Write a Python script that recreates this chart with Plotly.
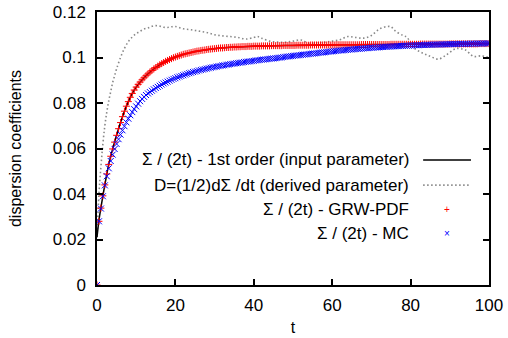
import plotly.graph_objects as go

# ---- data ----
t_markers = [i * 0.5 for i in range(201)]

grw_pdf = [
    0.0, 0.0280, 0.0338, 0.0392, 0.0440, 0.0488, 0.0530, 0.0566, 0.0598, 0.0628,
    0.0658, 0.0687, 0.0714, 0.0740, 0.0764, 0.0786, 0.0806, 0.0825, 0.0842, 0.0857,
    0.0870, 0.0882, 0.0892, 0.0902, 0.0911, 0.0920, 0.0928, 0.0936, 0.0943, 0.0950,
    0.0956, 0.0962, 0.0968, 0.0973, 0.0978, 0.0983, 0.0987, 0.0991, 0.0995, 0.0999,
    0.1002, 0.1005, 0.1008, 0.1011, 0.1014, 0.1016, 0.1018, 0.1020, 0.1022, 0.1024,
    0.1026, 0.1028, 0.1029, 0.1031, 0.1032, 0.1033, 0.1035, 0.1036, 0.1037, 0.1038,
    0.1039, 0.1040, 0.1041, 0.1042, 0.1042, 0.1043, 0.1044, 0.1044, 0.1045, 0.1045,
    0.1046, 0.1046, 0.1047, 0.1047, 0.1048, 0.1048, 0.1048, 0.1049, 0.1049, 0.1049,
    0.1050, 0.1050, 0.1050, 0.1050, 0.1051, 0.1051, 0.1051, 0.1051, 0.1051, 0.1052,
    0.1052, 0.1052, 0.1052, 0.1052, 0.1052, 0.1053, 0.1053, 0.1053, 0.1053, 0.1053,
    0.1053, 0.1053, 0.1054, 0.1054, 0.1054, 0.1054, 0.1054, 0.1054, 0.1054, 0.1055,
    0.1055, 0.1055, 0.1055, 0.1055, 0.1055, 0.1055, 0.1055, 0.1055, 0.1055, 0.1055,
    0.1055, 0.1055, 0.1056, 0.1056, 0.1056, 0.1056, 0.1056, 0.1056, 0.1056, 0.1056,
    0.1056, 0.1056, 0.1056, 0.1056, 0.1056, 0.1057, 0.1057, 0.1057, 0.1057, 0.1057,
    0.1057, 0.1057, 0.1057, 0.1057, 0.1057, 0.1057, 0.1057, 0.1057, 0.1057, 0.1057,
    0.1058, 0.1058, 0.1058, 0.1058, 0.1058, 0.1058, 0.1058, 0.1058, 0.1058, 0.1058,
    0.1058, 0.1058, 0.1058, 0.1058, 0.1058, 0.1059, 0.1059, 0.1059, 0.1059, 0.1059,
    0.1059, 0.1059, 0.1059, 0.1059, 0.1059, 0.1059, 0.1059, 0.1059, 0.1059, 0.1059,
    0.1060, 0.1060, 0.1060, 0.1060, 0.1060, 0.1060, 0.1060, 0.1060, 0.1060, 0.1060,
    0.1060, 0.1060, 0.1060, 0.1060, 0.1060, 0.1061, 0.1061, 0.1061, 0.1061, 0.1061,
    0.1061,
]

mc = [
    0.0, 0.0280, 0.0336, 0.0390, 0.0438, 0.0478, 0.0513, 0.0545, 0.0573, 0.0598,
    0.0620, 0.0641, 0.0661, 0.0680, 0.0698, 0.0715, 0.0731, 0.0746, 0.0760, 0.0773,
    0.0785, 0.0797, 0.0808, 0.0818, 0.0827, 0.0835, 0.0842, 0.0848, 0.0854, 0.0860,
    0.0866, 0.0871, 0.0876, 0.0881, 0.0886, 0.0890, 0.0894, 0.0898, 0.0902, 0.0906,
    0.0909, 0.0913, 0.0916, 0.0919, 0.0922, 0.0925, 0.0928, 0.0931, 0.0933, 0.0936,
    0.0938, 0.0940, 0.0943, 0.0945, 0.0947, 0.0949, 0.0951, 0.0953, 0.0955, 0.0957,
    0.0958, 0.0960, 0.0962, 0.0963, 0.0965, 0.0966, 0.0968, 0.0969, 0.0971, 0.0972,
    0.0973, 0.0975, 0.0976, 0.0977, 0.0978, 0.0980, 0.0981, 0.0982, 0.0983, 0.0984,
    0.0985, 0.0987, 0.0988, 0.0989, 0.0990, 0.0991, 0.0992, 0.0993, 0.0994, 0.0995,
    0.0996, 0.0997, 0.0998, 0.0999, 0.1000, 0.1002, 0.1003, 0.1004, 0.1005, 0.1006,
    0.1007, 0.1008, 0.1009, 0.1010, 0.1011, 0.1012, 0.1013, 0.1014, 0.1015, 0.1016,
    0.1017, 0.1018, 0.1019, 0.1020, 0.1021, 0.1022, 0.1023, 0.1024, 0.1025, 0.1026,
    0.1027, 0.1028, 0.1029, 0.1030, 0.1031, 0.1031, 0.1032, 0.1033, 0.1034, 0.1035,
    0.1035, 0.1036, 0.1037, 0.1038, 0.1038, 0.1039, 0.1040, 0.1041, 0.1041, 0.1042,
    0.1043, 0.1043, 0.1044, 0.1044, 0.1045, 0.1046, 0.1046, 0.1047, 0.1047, 0.1048,
    0.1048, 0.1049, 0.1049, 0.1050, 0.1050, 0.1051, 0.1051, 0.1052, 0.1052, 0.1052,
    0.1053, 0.1053, 0.1054, 0.1054, 0.1054, 0.1055, 0.1055, 0.1055, 0.1056, 0.1056,
    0.1056, 0.1056, 0.1057, 0.1057, 0.1057, 0.1057, 0.1058, 0.1058, 0.1058, 0.1058,
    0.1059, 0.1059, 0.1059, 0.1059, 0.1059, 0.1060, 0.1060, 0.1060, 0.1060, 0.1060,
    0.1060, 0.1061, 0.1061, 0.1061, 0.1061, 0.1061, 0.1061, 0.1062, 0.1062, 0.1062,
    0.1062,
]

t_first = [0, 0.5, 1, 1.5, 2, 3, 4, 5, 6, 7, 8, 9, 10, 12, 14, 16, 18, 20, 25, 30,
           35, 40, 50, 60, 70, 80, 90, 100]
first_order = [0.021, 0.0285, 0.0340, 0.0392, 0.0440, 0.0530, 0.0598, 0.0658, 0.0714,
               0.0764, 0.0806, 0.0842, 0.0870, 0.0911, 0.0943, 0.0968, 0.0987, 0.1002,
               0.1026, 0.1039, 0.1046, 0.1050, 0.1053, 0.1055, 0.1057, 0.1058, 0.1060,
               0.1061]

t_derived = [0, 0.5, 1, 1.5, 2, 2.5, 3, 3.5, 4, 4.5,
             5, 6, 7, 8, 9, 10, 11, 12, 13, 14,
             15, 16, 17, 18, 19, 20, 22, 24, 26, 28,
             30, 32, 34, 36, 38, 40, 41, 42, 44, 46,
             48, 50, 52, 54, 56, 58, 60, 62, 64, 66,
             68, 70, 72, 74, 75, 76, 78, 79, 80, 81,
             83, 85, 87, 89, 91, 92, 94, 96, 98, 100]
derived = [0.021, 0.040, 0.052, 0.062, 0.070, 0.076, 0.081, 0.085, 0.089, 0.092,
           0.095, 0.100, 0.104, 0.107, 0.109, 0.1105, 0.1115, 0.1125, 0.1130, 0.1137,
           0.1140, 0.1138, 0.1133, 0.1132, 0.1135, 0.1136, 0.1126, 0.1122, 0.1116, 0.1110,
           0.1100, 0.1095, 0.1092, 0.1088, 0.1081, 0.1088, 0.1092, 0.1085, 0.1072, 0.1068,
           0.1067, 0.1072, 0.1077, 0.1063, 0.1065, 0.1067, 0.1072, 0.1078, 0.1092, 0.1088,
           0.1085, 0.1097, 0.1125, 0.1136, 0.1135, 0.1118, 0.1097, 0.1090, 0.1065, 0.1040,
           0.1020, 0.1005, 0.0993, 0.1010, 0.1035, 0.1040, 0.1033, 0.1005, 0.1007, 0.1000]

x_ticks = [0, 20, 40, 60, 80, 100]
y_ticks = [0, 0.02, 0.04, 0.06, 0.08, 0.1, 0.12]
y_tick_labels = ["0", "0.02", "0.04", "0.06", "0.08", "0.1", "0.12"]

legend_labels = [
    "\u03a3 / (2t) - 1st order (input parameter)",
    "D=(1/2)d\u03a3 /dt (derived parameter)",
    "\u03a3 / (2t) - GRW-PDF",
    "\u03a3 / (2t) - MC",
]

FONT = "Liberation Sans, Arial, sans-serif"
FS = 17
FS_TITLE = 16
RED = "#ff0000"
BLUE = "#0000ff"
GRAY = "#888888"
DOTS = "1.5px,2.5px"

fig = go.Figure()

fig.add_trace(go.Scatter(
    x=t_derived, y=derived, mode="lines",
    line=dict(color=GRAY, width=1.6, dash=DOTS, shape="spline"),
    showlegend=False))
fig.add_trace(go.Scatter(
    x=t_first, y=first_order, mode="lines", line=dict(color="black", width=1.5, shape="spline"),
    showlegend=False))
fig.add_trace(go.Scatter(
    x=t_markers, y=grw_pdf, mode="markers",
    marker=dict(symbol="cross-thin", size=5, color=RED, line=dict(color=RED, width=1)),
    showlegend=False))
fig.add_trace(go.Scatter(
    x=t_markers, y=mc, mode="markers",
    marker=dict(symbol="x-thin", size=6, color=BLUE, line=dict(color=BLUE, width=1)),
    showlegend=False))

# gnuplot-style key: right-aligned text with sample on the right
key_y = [0.458, 0.366, 0.278, 0.187]
annotations = []
for lab, yy in zip(legend_labels, key_y):
    annotations.append(dict(x=0.801, y=yy, xref="paper", yref="paper", text=lab,
                            showarrow=False, xanchor="right", yanchor="middle",
                            font=dict(family=FONT, size=FS, color="black")))
annotations.append(dict(x=0.893, y=key_y[2], xref="paper", yref="paper", text="+",
                        showarrow=False, xanchor="center", yanchor="middle",
                        font=dict(family=FONT, size=10, color=RED)))
annotations.append(dict(x=0.893, y=key_y[3], xref="paper", yref="paper", text="\u00d7",
                        showarrow=False, xanchor="center", yanchor="middle",
                        font=dict(family=FONT, size=10, color=BLUE)))

shapes = [
    dict(type="line", xref="paper", yref="paper", x0=0.832, x1=0.954, y0=key_y[0], y1=key_y[0],
         line=dict(color="black", width=1.5)),
    dict(type="line", xref="paper", yref="paper", x0=0.832, x1=0.954, y0=key_y[1], y1=key_y[1],
         line=dict(color=GRAY, width=1.6, dash=DOTS)),
]

fig.update_layout(
    template="none",
    width=508, height=338,
    margin=dict(l=97, r=19, t=12, b=53, autoexpand=False),
    paper_bgcolor="white", plot_bgcolor="white",
    font=dict(family=FONT, size=FS, color="black"),
    annotations=annotations, shapes=shapes,
    showlegend=False,
)
fig.update_xaxes(
    automargin=False,
    range=[0, 100], tickvals=x_ticks, ticks="inside", ticklen=6, tickwidth=1.5,
    tickcolor="black", showline=True, linecolor="black", linewidth=1.5, mirror="allticks",
    showgrid=False, zeroline=False, ticklabelstandoff=4,
    title=dict(text="t", font=dict(size=FS_TITLE), standoff=8),
    tickfont=dict(size=FS),
)
fig.update_yaxes(
    automargin=False,
    range=[0, 0.12], tickvals=y_ticks, ticktext=y_tick_labels, ticks="inside", ticklen=6,
    tickwidth=1.5, tickcolor="black", showline=True, linecolor="black", linewidth=1.5,
    mirror="allticks", showgrid=False, zeroline=False, ticklabelstandoff=6,
    title=dict(text="dispersion coefficients", font=dict(size=FS_TITLE), standoff=27),
    tickfont=dict(size=FS),
)

fig.write_html("out.html")
